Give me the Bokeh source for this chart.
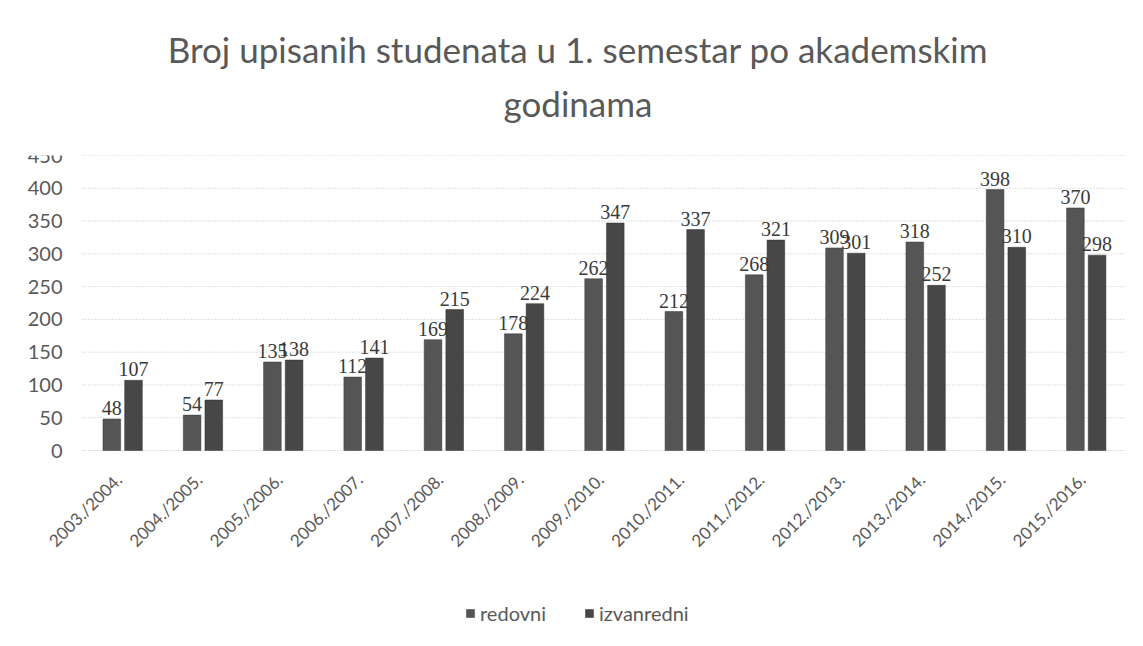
import math
from bokeh.plotting import figure
from bokeh.models import ColumnDataSource, Range1d, LabelSet, Legend, LegendItem, Title
from bokeh.transform import dodge
from bokeh.core.properties import value
from bokeh.embed import file_html
from bokeh.resources import INLINE

years = ["2003./2004.", "2004./2005.", "2005./2006.", "2006./2007.", "2007./2008.",
         "2008./2009.", "2009./2010.", "2010./2011.", "2011./2012.", "2012./2013.",
         "2013./2014.", "2014./2015.", "2015./2016."]
redovni = [48, 54, 135, 112, 169, 178, 262, 212, 268, 309, 318, 398, 370]
izvanredni = [107, 77, 138, 141, 215, 224, 347, 337, 321, 301, 252, 310, 298]
y_ticks = [0, 50, 100, 150, 200, 250, 300, 350, 400, 450]
title_lines = ["Broj upisanih studenata u 1. semestar po akademskim", "godinama"]
series_names = ["redovni", "izvanredni"]

n = len(years)
idx = list(range(n))
src = ColumnDataSource(dict(idx=idx, years=years, redovni=redovni, izvanredni=izvanredni,
                            rl=[str(v) for v in redovni], il=[str(v) for v in izvanredni],
                            zero=[0] * n))
grid_src = ColumnDataSource(dict(y=y_ticks, lab=[str(t) for t in y_ticks],
                                 x0=[-0.5] * len(y_ticks), x1=[n - 0.5] * len(y_ticks)))

# layout: one category band = 80.3 px; the plot area starts 62 px right of the frame's left edge
band_px = 80.3
frame_w = 1115
x_lo = -0.5 - 62 / band_px
x_hi = x_lo + frame_w / band_px
y_max = 450
y_min = -y_max * 185 / 295

p = figure(x_range=Range1d(x_lo, x_hi), y_range=Range1d(y_min, y_max),
           frame_width=frame_w, frame_height=480,
           output_backend="svg", toolbar_location=None,
           min_border_left=20, min_border_right=0, min_border_top=155, min_border_bottom=4)
p.outline_line_color = None
p.background_fill_color = "white"
p.border_fill_color = "white"
p.xaxis.visible = False
p.yaxis.visible = False
p.xgrid.visible = False
p.ygrid.visible = False

# dotted horizontal gridlines and value labels
p.segment(x0="x0", y0="y", x1="x1", y1="y", source=grid_src,
          line_color="#bdbdbd", line_dash="1 2", line_width=1)
p.text(x=-0.5, y="y", text="lab", source=grid_src, x_offset=-20,
       text_align="right", text_baseline="middle",
       text_font=value("Lato"), text_font_size="20px", text_color="#595959")

bw = 0.22
r1 = p.vbar(x=dodge("idx", -0.135), top="redovni", width=bw, source=src,
            fill_color="#555555", line_color="#3a3a3a", line_width=0.5)
r2 = p.vbar(x=dodge("idx", 0.135), top="izvanredni", width=bw, source=src,
            fill_color="#474747", line_color="#333333", line_width=0.5)

for col, ycol, off in (("rl", "redovni", -0.135), ("il", "izvanredni", 0.135)):
    ls = LabelSet(x=dodge("idx", off), y=ycol,
                  text=col, source=src, text_align="center", text_baseline="bottom", y_offset=4,
                  text_font=value("Liberation Serif"), text_font_size="20px", text_color="#3a3a3a")
    p.add_layout(ls)

# category labels, rotated 45 degrees below the zero line
p.text(x="idx", y="zero", text="years", source=src, angle=math.pi / 4,
       text_align="right", text_baseline="middle", x_offset=-4, y_offset=26,
       text_font=value("Lato"), text_font_size="17px", text_color="#595959")

p.title.text = title_lines[0]
p.title.align = "center"
p.title.text_font = "Lato"
p.title.text_font_style = "normal"
p.title.text_font_size = "35px"
p.title.text_color = "#595959"
t2 = Title(text=title_lines[1], align="center", text_font="Lato", text_font_style="normal",
           text_font_size="35px", text_color="#595959")
spacer = Title(text=" ", align="center", text_font="Lato", text_font_size="12px",
               text_color="#ffffff")
p.above = [spacer, t2]

legend = Legend(items=[LegendItem(label=series_names[0], renderers=[r1]),
                       LegendItem(label=series_names[1], renderers=[r2])],
                orientation="horizontal", location=(445, 10),
                label_text_font="Lato", label_text_font_size="20px", label_text_color="#595959",
                glyph_width=10, glyph_height=10, spacing=38, border_line_color=None,
                background_fill_alpha=0, margin=0, padding=2, label_height=20)
p.add_layout(legend)

open("out.html", "w").write(file_html(p, INLINE))
